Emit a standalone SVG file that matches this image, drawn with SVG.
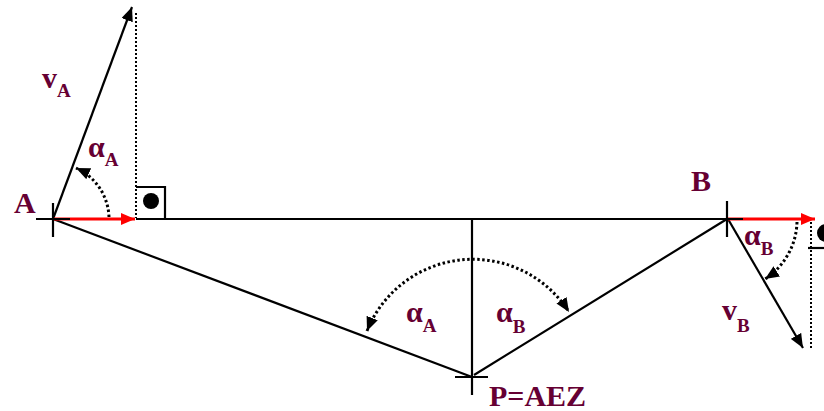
<svg xmlns="http://www.w3.org/2000/svg" width="824" height="411" viewBox="0 0 824 411">
<style>
.ln{stroke:#000;stroke-width:2.2;fill:none}
.red{stroke:#ff0000;stroke-width:3;fill:none}
.dot{stroke:#000;stroke-width:2;stroke-dasharray:2 2;fill:none}
.arc{stroke:#000;stroke-width:3;stroke-dasharray:2.5 2.5;fill:none}
.lbl{font-family:"Liberation Serif","Times New Roman",serif;font-weight:bold;font-size:30px;fill:#660033}
.sub{font-size:19px}
</style>
<defs>
<marker id="ah" markerUnits="userSpaceOnUse" markerWidth="16" markerHeight="12" refX="14" refY="6" orient="auto-start-reverse" viewBox="0 0 16 12"><path d="M0,0 L14,6 L0,12 Z" fill="#000"/></marker>
<marker id="ahr" markerUnits="userSpaceOnUse" markerWidth="16" markerHeight="12" refX="14" refY="6" orient="auto" viewBox="0 0 16 12"><path d="M0,0 L14,6 L0,12 Z" fill="#ff0000"/></marker>
</defs>
<rect width="824" height="411" fill="#fff"/>
<g id="connectors">
<line class="ln" x1="136" y1="219" x2="727" y2="219"/>
<line class="ln" x1="53" y1="219" x2="472" y2="377"/>
<line class="ln" x1="474" y1="375" x2="727" y2="219"/>
<line class="ln" x1="472" y1="219" x2="472" y2="395"/>
<line class="ln" x1="53" y1="219" x2="132" y2="7" marker-end="url(#ah)"/>
<line class="ln" x1="728" y1="219" x2="803" y2="348" marker-end="url(#ah)"/>
<line class="red" x1="53" y1="219" x2="135" y2="219" marker-end="url(#ahr)"/>
<line class="red" x1="728" y1="219" x2="815" y2="219" marker-end="url(#ahr)"/>
<line class="dot" x1="136" y1="13" x2="136" y2="218"/>
<line class="dot" x1="811" y1="222" x2="811" y2="350"/>
<path class="arc" d="M109,217 A56 56 0 0 0 76,168" marker-end="url(#ah)"/>
<path class="arc" d="M797,222 A70 70 0 0 1 765,279" marker-end="url(#ah)"/>
<path class="arc" d="M367,331 A114 114 0 0 1 569,312" marker-start="url(#ah)" marker-end="url(#ah)"/>
<path class="ln" d="M136,187 H165 V219"/>
<circle cx="151" cy="201" r="8" fill="#000"/>
<line class="ln" x1="808" y1="248" x2="824" y2="248"/>
<circle cx="826" cy="233" r="9" fill="#000"/>
</g>
<g id="A">
<line class="ln" x1="36" y1="219" x2="70" y2="219"/>
<line class="ln" x1="53" y1="203" x2="53" y2="237"/>
<text class="lbl" x="14" y="213">A</text>
</g>
<g id="B">
<line class="ln" x1="710" y1="219" x2="743" y2="219"/>
<line class="ln" x1="727" y1="201" x2="727" y2="237"/>
<text class="lbl" x="691" y="191">B</text>
</g>
<g id="P">
<line class="ln" x1="455" y1="377" x2="488" y2="377"/>
<text class="lbl" x="489" y="406">P=AEZ</text>
</g>
<g id="labels">
<text class="lbl" x="42" y="88">v<tspan class="sub" dy="9">A</tspan></text>
<text class="lbl" x="88" y="157">α<tspan class="sub" dy="9">A</tspan></text>
<text class="lbl" x="744" y="245">α<tspan class="sub" dy="10">B</tspan></text>
<text class="lbl" x="722" y="320">v<tspan class="sub" dy="12">B</tspan></text>
<text class="lbl" x="406" y="322">α<tspan class="sub" dy="10">A</tspan></text>
<text class="lbl" x="496" y="322">α<tspan class="sub" dy="11">B</tspan></text>
</g>
</svg>
